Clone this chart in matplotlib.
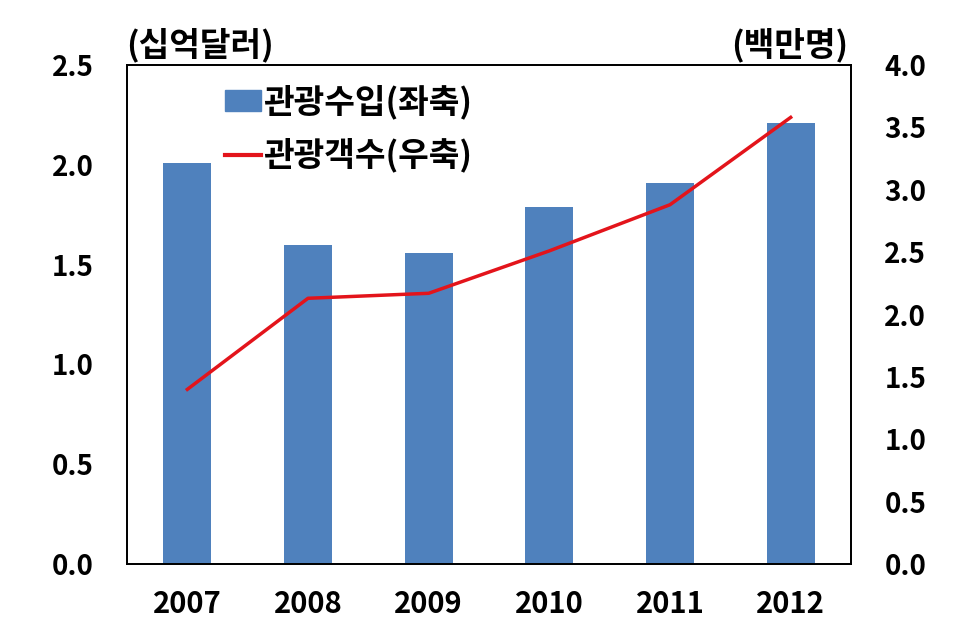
import matplotlib
matplotlib.use("Agg")
import matplotlib.pyplot as plt
from matplotlib.patches import Patch
from matplotlib.lines import Line2D

plt.rcParams['font.family'] = ['Noto Sans CJK KR', 'DejaVu Sans']
plt.rcParams['font.weight'] = 'bold'

years = ["2007", "2008", "2009", "2010", "2011", "2012"]
receipts = [2.01, 1.60, 1.56, 1.79, 1.91, 2.21]   # 관광수입, 십억달러
visitors = [1.40, 2.13, 2.17, 2.51, 2.88, 3.58]   # 관광객수, 백만명

fig = plt.figure(figsize=(9.76, 6.38), dpi=100)
ax = fig.add_axes([127 / 976, 1 - 564 / 638, 724 / 976, 499 / 638])
x = range(len(years))
ax.bar(x, receipts, width=0.4, color="#4F81BD", zorder=2)
ax.set_xlim(-0.5, len(years) - 0.5)
ax.set_ylim(0, 2.5)
ax.set_yticks([0, 0.5, 1.0, 1.5, 2.0, 2.5])
ax.set_yticklabels(["%.1f" % v for v in ax.get_yticks()])
ax.set_xticks(list(x))
ax.set_xticklabels(years)
ax.tick_params(length=0)
ax.tick_params(axis="y", labelsize=20, pad=24)
ax.tick_params(axis="x", labelsize=21, pad=18)
for s in ax.spines.values():
    s.set_linewidth(1.3)

ax2 = ax.twinx()
ax2.plot(x, visitors, color="#E3141B", linewidth=2.5, zorder=3)
ax2.set_ylim(0, 4.0)
ax2.set_yticks([0, 0.5, 1.0, 1.5, 2.0, 2.5, 3.0, 3.5, 4.0])
ax2.set_yticklabels(["%.1f" % v for v in ax2.get_yticks()])
ax2.tick_params(length=0, labelsize=20, pad=24)
for s in ax2.spines.values():
    s.set_linewidth(1.3)

fig.text(126 / 976, 1 - 45 / 638, "(십억달러)", fontsize=24, va="center", ha="left")
fig.text(848 / 976, 1 - 45 / 638, "(백만명)", fontsize=24, va="center", ha="right")

handles = [Patch(color="#4F81BD"), Line2D([], [], color="#E3141B", linewidth=3)]
ax.legend(handles, ["관광수입(좌축)", "관광객수(우축)"], loc="upper left",
          bbox_to_anchor=(0.135, 0.96), frameon=False, fontsize=24,
          borderpad=0, borderaxespad=0, handlelength=1.1, handleheight=0.6,
          handletextpad=0.05, labelspacing=0.55)

fig.savefig("out.png", dpi=100)
